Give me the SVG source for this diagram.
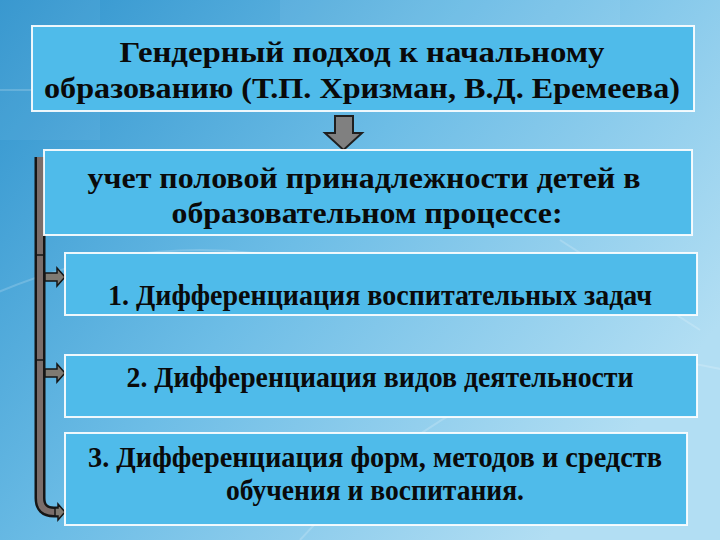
<svg xmlns="http://www.w3.org/2000/svg" width="720" height="540" viewBox="0 0 720 540">
<defs>
<linearGradient id="bg" x1="0" y1="0" x2="1" y2="0.6">
<stop offset="0" stop-color="#2f93cd"/>
<stop offset="0.5" stop-color="#6dbde6"/>
<stop offset="1" stop-color="#b2def3"/>
</linearGradient>
</defs>
<style>
.box{fill:#4fbbea;stroke:#ffffff;stroke-width:2;stroke-opacity:0.9}
.deco{fill:none;stroke:#ffffff;stroke-opacity:0.18;stroke-width:2}
.outer{fill:none;stroke:#161616;stroke-width:11}
.barinner{fill:none;stroke:#7a6d6a;stroke-width:6}
.arr{fill:#7f7a72;stroke:#161616;stroke-width:1.5}
.sep{stroke:#161616;stroke-width:1.5}
</style>
<rect width="720" height="540" fill="url(#bg)"/>
<g id="background-decor">
<path class="deco" d="M-20 300 Q 200 200 420 300"/>
<path class="deco" d="M300 540 Q 520 300 760 380"/>
<path class="deco" d="M560 240 L 700 330"/>
<path class="deco" d="M0 90 L 60 90"/>
<rect x="0" y="0" width="100" height="140" fill="#ffffff" fill-opacity="0.05"/>
<rect x="280" y="0" width="340" height="28" fill="#ffffff" fill-opacity="0.06"/>
</g>
<g id="connectors">
<path class="outer" d="M40 157 V 498 Q 40 512 54 512 H 58"/>
<path class="barinner" d="M40 157 V 498 Q 40 512 54 512 H 58"/>
<line class="sep" x1="35" y1="255" x2="45" y2="255"/>
<line class="sep" x1="35" y1="360" x2="45" y2="360"/>
<path class="arr" d="M45 273 H 57 V 268 L 65 277 L 57 286 V 281 H 45 Z"/>
<path class="arr" d="M45 369 H 57 V 364 L 65 373 L 57 382 V 377 H 45 Z"/>
<path class="arr" d="M55 508 H 58 V 504 L 65 512 L 58 520 V 516 H 55 Z"/>
<path id="down-arrow" d="M335 116 H 353 V 133 H 362 L 343.5 150 L 325 133 H 335 Z" fill="#808080" stroke="#1f1f1f" stroke-width="2"/>
</g>
<g font-family="Liberation Serif, Times New Roman, DejaVu Serif, serif" font-weight="bold" font-size="30" fill="#0a0a0a" text-anchor="middle">
<g id="title">
<rect class="box" x="32" y="26" width="662" height="85"/>
<text x="362" y="62" textLength="485" lengthAdjust="spacingAndGlyphs">Гендерный подход  к начальному</text>
<text x="362" y="98" textLength="636" lengthAdjust="spacingAndGlyphs">образованию (Т.П. Хризман, В.Д. Еремеева)</text>
</g>
<g id="main">
<rect class="box" x="44" y="150" width="648" height="85"/>
<text x="364" y="188" textLength="553" lengthAdjust="spacingAndGlyphs">учет половой принадлежности детей в</text>
<text x="367" y="223" textLength="391" lengthAdjust="spacingAndGlyphs">образовательном процессе:</text>
</g>
<g id="item1">
<rect class="box" x="65" y="253" width="632" height="62"/>
<text x="380" y="305" textLength="544" lengthAdjust="spacingAndGlyphs">1. Дифференциация воспитательных задач</text>
</g>
<g id="item2">
<rect class="box" x="65" y="355" width="632" height="62"/>
<text x="380" y="387" textLength="507" lengthAdjust="spacingAndGlyphs">2. Дифференциация видов деятельности</text>
</g>
<g id="item3">
<rect class="box" x="65" y="433" width="622" height="92"/>
<text x="375" y="467" textLength="574" lengthAdjust="spacingAndGlyphs">3. Дифференциация  форм, методов и средств</text>
<text x="375" y="500" textLength="298" lengthAdjust="spacingAndGlyphs">обучения и воспитания.</text>
</g>
</g>
</svg>
